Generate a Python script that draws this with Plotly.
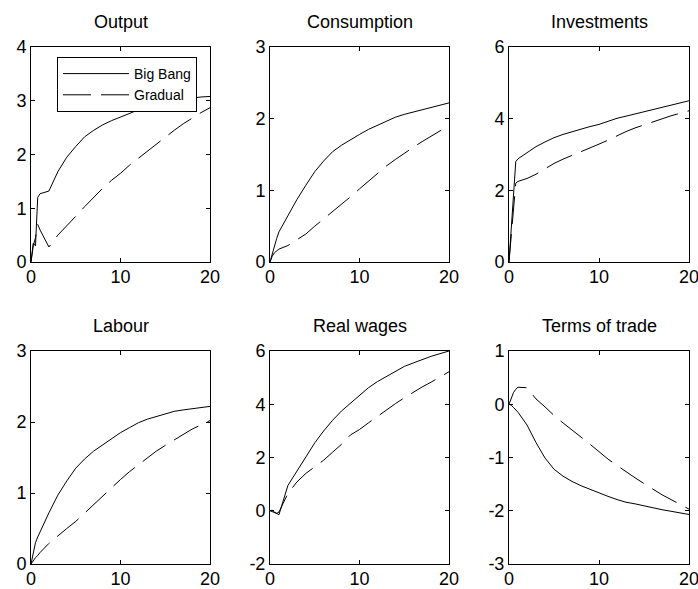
import plotly.graph_objects as go
from plotly.subplots import make_subplots

# time grid (finer in the first period)
t = [0, 0.25, 0.5, 0.75, 1, 2, 3, 4, 5, 6, 7, 8, 9, 10,
     11, 12, 13, 14, 15, 16, 17, 18, 19, 20]

titles = ["Output", "Consumption", "Investments",
          "Labour", "Real wages", "Terms of trade"]

output_bb = [0, 0.35, 0.3, 1.2, 1.27, 1.32, 1.68, 1.95, 2.15, 2.33, 2.45, 2.55,
             2.63, 2.7, 2.76, 2.83, 2.88, 2.93, 2.97, 3.0, 3.03, 3.05, 3.07, 3.08]
output_gr = [0, 0.3, 0.45, 0.7, 0.6, 0.28, 0.5, 0.67, 0.85, 1.03, 1.2, 1.37,
             1.52, 1.65, 1.8, 1.93, 2.07, 2.2, 2.33, 2.45, 2.57, 2.68, 2.78, 2.87]

cons_bb = [0, 0.12, 0.25, 0.33, 0.42, 0.65, 0.87, 1.07, 1.26, 1.41, 1.54, 1.63,
           1.71, 1.78, 1.85, 1.91, 1.97, 2.02, 2.06, 2.09, 2.12, 2.16, 2.19, 2.22]
cons_gr = [0, 0.08, 0.13, 0.16, 0.18, 0.23, 0.31, 0.39, 0.5, 0.6, 0.7, 0.8,
           0.91, 1.02, 1.13, 1.24, 1.34, 1.43, 1.52, 1.6, 1.68, 1.76, 1.83, 1.9]

inv_bb = [0, 0.9, 2.0, 2.8, 2.88, 3.05, 3.22, 3.35, 3.47, 3.56, 3.64, 3.71,
          3.78, 3.84, 3.93, 4.01, 4.07, 4.13, 4.19, 4.25, 4.32, 4.38, 4.44, 4.5]
inv_gr = [0, 0.7, 1.5, 2.2, 2.25, 2.33, 2.45, 2.6, 2.75, 2.87, 2.97, 3.07,
          3.17, 3.29, 3.4, 3.53, 3.64, 3.74, 3.83, 3.92, 4.0, 4.08, 4.15, 4.22]

lab_bb = [0, 0.15, 0.3, 0.38, 0.45, 0.72, 0.97, 1.17, 1.35, 1.48, 1.59, 1.68,
          1.77, 1.85, 1.92, 1.99, 2.04, 2.08, 2.12, 2.15, 2.17, 2.19, 2.21, 2.22]
lab_gr = [0, 0.05, 0.09, 0.12, 0.16, 0.29, 0.4, 0.5, 0.6, 0.72, 0.83, 0.95,
          1.07, 1.19, 1.3, 1.4, 1.5, 1.59, 1.67, 1.75, 1.83, 1.9, 1.96, 2.02]

wage_bb = [0, 0.02, -0.05, -0.1, -0.15, 0.95, 1.5, 2.05, 2.55, 3.0, 3.4, 3.75,
           4.05, 4.35, 4.62, 4.85, 5.05, 5.25, 5.42, 5.55, 5.68, 5.8, 5.9, 6.0]
wage_gr = [0, -0.03, -0.06, -0.1, -0.05, 0.65, 1.08, 1.4, 1.65, 1.9, 2.2, 2.5,
           2.85, 3.05, 3.3, 3.55, 3.8, 4.02, 4.24, 4.45, 4.65, 4.83, 5.03, 5.22]

tot_bb = [0, -0.02, -0.06, -0.1, -0.15, -0.39, -0.72, -1.01, -1.22, -1.35, -1.45, -1.53,
          -1.6, -1.66, -1.73, -1.79, -1.84, -1.87, -1.91, -1.95, -1.98, -2.01, -2.04, -2.07]
tot_gr = [0, 0.12, 0.22, 0.28, 0.32, 0.31, 0.1, -0.05, -0.21, -0.35, -0.48, -0.61,
          -0.75, -0.89, -1.03, -1.15, -1.27, -1.38, -1.49, -1.6, -1.7, -1.79, -1.88, -1.97]

big_bang = [output_bb, cons_bb, inv_bb, lab_bb, wage_bb, tot_bb]
gradual = [output_gr, cons_gr, inv_gr, lab_gr, wage_gr, tot_gr]

y_ranges = [(0, 4, 1), (0, 3, 1), (0, 6, 2), (0, 3, 1), (-2, 6, 2), (-3, 1, 1)]

FONT = "Liberation Sans, Arial, sans-serif"
W, H = 698, 589
ML, MR, MT, MB = 31, 9, 47, 25
pw, ph = W - ML - MR, H - MT - MB

col_px = [(31, 210), (270, 449), (509, 689)]
row_px = [(47, 262), (351, 564)]

fig = make_subplots(rows=2, cols=3)

for i in range(6):
    r, c = i // 3 + 1, i % 3 + 1
    fig.add_trace(go.Scatter(x=t, y=big_bang[i], mode="lines", name="Big Bang",
                             line=dict(color="black", width=1),
                             showlegend=(i == 0)), row=r, col=c)
    fig.add_trace(go.Scatter(x=t, y=gradual[i], mode="lines", name="Gradual",
                             line=dict(color="black", width=1, dash="28px,10px"),
                             showlegend=(i == 0)), row=r, col=c)

    x0, x1 = col_px[c - 1]
    y0, y1 = row_px[r - 1]
    lo, hi, step = y_ranges[i]
    yticks = list(range(lo, hi + 1, step))
    fig.update_xaxes(domain=[(x0 - ML) / pw, (x1 - ML) / pw], range=[0, 20],
                     tickvals=[0, 10, 20], ticklabelstandoff=-2, row=r, col=c)
    # plain hyphen minus, as in the original
    fig.update_yaxes(domain=[(H - MB - y1) / ph, (H - MB - y0) / ph], range=[lo, hi],
                     tickvals=yticks, ticktext=[str(v) for v in yticks], row=r, col=c)

    fig.add_annotation(text=titles[i], x=((x0 + x1) / 2 - ML) / pw,
                       y=(H - MB - (y0 - 25)) / ph, xref="paper", yref="paper",
                       xanchor="center", yanchor="middle", showarrow=False,
                       font=dict(family=FONT, size=18, color="black"))

axis_style = dict(showgrid=False, zeroline=False, showline=True, linecolor="black",
                  linewidth=1, mirror="ticks", ticks="inside", ticklen=4,
                  tickcolor="black", ticklabeloverflow="allow",
                  tickfont=dict(family=FONT, size=18, color="black"))
fig.update_xaxes(**axis_style)
fig.update_yaxes(**axis_style)

fig.update_layout(
    width=W, height=H,
    margin=dict(l=ML, r=MR, t=MT, b=MB, autoexpand=False),
    paper_bgcolor="white", plot_bgcolor="white",
    font=dict(family=FONT, color="black"),
    legend=dict(x=(57 - ML) / pw, y=(H - MB - 57) / ph, xanchor="left", yanchor="top",
                bgcolor="white", bordercolor="black", borderwidth=1,
                font=dict(family=FONT, size=14, color="black"),
                itemwidth=66, tracegroupgap=0),
)

fig.write_html("out.html", config={"displayModeBar": False},
               post_script="document.body.style.margin='0';")
